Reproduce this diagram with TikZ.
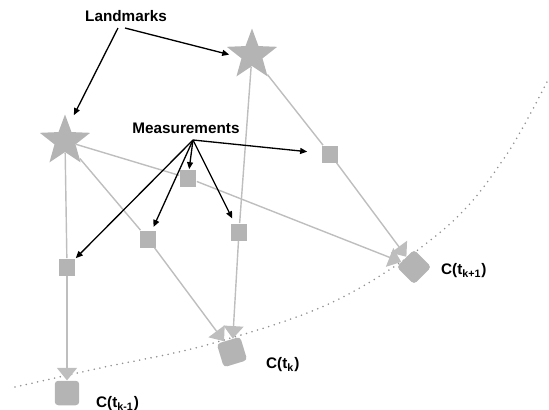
\documentclass[tikz,border=0pt]{standalone}
\usepackage{fontspec}
\setmainfont{Liberation Sans}
\usetikzlibrary{shapes.geometric,arrows.meta,backgrounds}
\definecolor{markgray}{RGB}{180,180,180}
\definecolor{linkgray}{RGB}{190,190,190}
\definecolor{curvegray}{RGB}{145,145,145}

\begin{document}
\begin{tikzpicture}[
  x=0.02cm, y=-0.02cm,
  landmark/.style={star, star points=5, star point ratio=2.4, fill=markgray, inner sep=0pt, minimum size=1.06cm},
  measure/.style={rectangle, fill=markgray, inner sep=0pt, minimum size=0.34cm},
  pose/.style={rectangle, rounded corners=2pt, fill=markgray, inner sep=0pt, minimum size=0.49cm},
  link/.style={draw=linkgray, line width=0.8pt},
  linkarrow/.style={link, -{Triangle[width=4mm, length=2.5mm]}},
  pointer/.style={-{Triangle[length=1.4mm, width=1.2mm]}, line width=0.75pt},
  title/.style={font=\fontsize{8.7}{10}\selectfont\bfseries},
]
\useasboundingbox (0,0) rectangle (549,410);

% === LANDMARKS, MEASUREMENTS, POSES ===
\node[landmark] (lm1) at (252,55) {};
\node[landmark] (lm2) at (65,141) {};

\node[measure] (m1) at (188,178) {};
\node[measure] (m2) at (330,154) {};
\node[measure] (m3) at (148,239) {};
\node[measure] (m4) at (239,232) {};
\node[measure] (m5) at (67,267) {};

\node[pose] (c1) at (67,393) {};
\node[pose, rotate=17] (c2) at (232,352) {};
\node[pose, rotate=45] (c3) at (414,267) {};

% === TRAJECTORY ===
\begin{scope}[on background layer]
\draw[curvegray, line width=1pt, line cap=round, dash pattern=on 0pt off 3.3pt]
  plot[smooth, tension=0.6] coordinates {(15,387) (100,368) (210,344) (337,300) (443,230) (503,160) (548,80)};
\end{scope}

% === LINKS ===
\draw[link] (lm2) -- (m5);
\draw[linkarrow] (m5) -- (c1);
\draw[link] (lm2) -- (m3);
\draw[linkarrow] (m3) -- (c2);
\draw[link] (lm2) -- (m1);
\draw[linkarrow] (m1) -- (c3);
\draw[link] (lm1) -- (m4);
\draw[linkarrow] (m4) -- (c2);
\draw[link] (lm1) -- (m2);
\draw[linkarrow] (m2) -- (c3);

% === LABELS ===
\node[title] (lmtext) at (126,16) {Landmarks};
\node[title] (mstext) at (186,128) {Measurements};
\node[title, anchor=west] (c1text) at (90,404) {C(t\textsubscript{k-1})};
\node[title, anchor=west] (c2text) at (260,365) {C(t\textsubscript{k})};
\node[title, anchor=west] (c3text) at (435,271) {C(t\textsubscript{k+1})};

\coordinate (lmsrcA) at (118,28);
\coordinate (lmsrcB) at (125,28);
\coordinate (mssrc) at (193,140);

\draw[pointer, shorten >=6pt] (lmsrcA) -- (lm2.76);
\draw[pointer, shorten >=6pt] (lmsrcB) -- (lm1.190);

\draw[pointer] (mssrc) -- (m1);
\draw[pointer, shorten >=8pt] (mssrc) -- (m2);
\draw[pointer, shorten >=2pt] (mssrc) -- (m3);
\draw[pointer, shorten >=3pt] (mssrc) -- (m4);
\draw[pointer] (mssrc) -- (m5);
\end{tikzpicture}
\end{document}
